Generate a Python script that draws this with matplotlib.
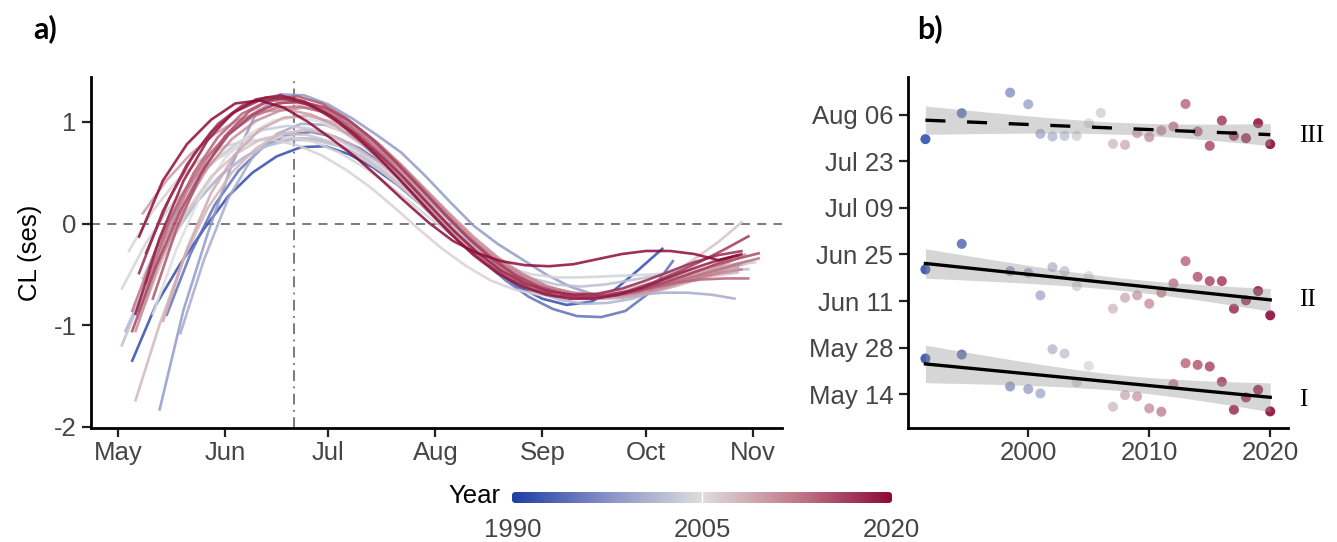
import numpy as np
import matplotlib.pyplot as plt
from matplotlib.colors import LinearSegmentedColormap, Normalize
from matplotlib.patches import FancyBboxPatch

plt.rcParams['font.family'] = ['Liberation Sans', 'DejaVu Sans']
plt.rcParams['axes.unicode_minus'] = False

W, H = 1337, 542

# ---------------- panel a : seasonal CL curves (weekly values from start day-of-year)
curve_years = [1991.5, 1994.5, 1998.5, 2000, 2001, 2002, 2003, 2004, 2005, 2006, 2007, 2008,
               2009, 2010, 2011, 2012, 2013, 2014, 2015, 2016, 2017, 2018, 2019, 2020]
curve_start = [125, 135, 133, 139, 123, 122, 128, 122, 131, 124, 127, 126,
               134, 128, 126, 127, 125, 129, 131, 125, 129, 127, 126, 127]
curve_cl = [
    [-1.36, -0.80, -0.40, -0.05, 0.27, 0.50, 0.66, 0.75, 0.76, 0.68, 0.55, 0.38, 0.18, -0.04, -0.25, -0.45, -0.62, -0.74, -0.80, -0.77, -0.65, -0.45, -0.24],
    [-0.91, -0.30, 0.18, 0.52, 0.75, 0.87, 0.90, 0.85, 0.74, 0.58, 0.38, 0.15, -0.10, -0.34, -0.55, -0.72, -0.84, -0.91, -0.92, -0.86, -0.68, -0.36],
    [-1.84, -0.85, -0.10, 0.58, 1.08, 1.27, 1.26, 1.17, 1.03, 0.87, 0.70, 0.47, 0.22, -0.02, -0.20, -0.35, -0.50, -0.62, -0.70, -0.73, -0.70, -0.63, -0.55, -0.48, -0.43],
    [-1.09, -0.35, 0.25, 0.65, 0.88, 0.98, 0.97, 0.88, 0.72, 0.52, 0.30, 0.06, -0.18, -0.38, -0.54, -0.65, -0.72, -0.74, -0.73, -0.70, -0.68, -0.68, -0.70, -0.74],
    [-1.07, -0.55, -0.12, 0.22, 0.48, 0.66, 0.78, 0.84, 0.83, 0.76, 0.63, 0.46, 0.26, 0.04, -0.18, -0.38, -0.55, -0.67, -0.75, -0.79, -0.78, -0.74, -0.66, -0.57, -0.48, -0.42, -0.38],
    [-1.21, -0.62, -0.18, 0.18, 0.45, 0.64, 0.76, 0.82, 0.82, 0.76, 0.64, 0.48, 0.30, 0.10, -0.10, -0.28, -0.43, -0.54, -0.60, -0.62, -0.60, -0.56, -0.52, -0.48, -0.46, -0.45, -0.45],
    [-0.55, -0.05, 0.35, 0.62, 0.80, 0.92, 0.96, 0.93, 0.84, 0.70, 0.52, 0.31, 0.09, -0.13, -0.33, -0.49, -0.61, -0.68, -0.71, -0.71, -0.68, -0.63, -0.57, -0.50, -0.44, -0.40],
    [-0.65, -0.20, 0.16, 0.44, 0.64, 0.77, 0.84, 0.85, 0.80, 0.70, 0.56, 0.39, 0.20, 0.01, -0.17, -0.32, -0.43, -0.50, -0.53, -0.53, -0.52, -0.51, -0.50, -0.48, -0.45, -0.41, -0.37],
    [-0.90, -0.25, 0.28, 0.64, 0.88, 1.01, 1.05, 1.00, 0.88, 0.71, 0.50, 0.27, 0.03, -0.19, -0.38, -0.53, -0.63, -0.69, -0.71, -0.70, -0.66, -0.60, -0.53, -0.46, -0.40],
    [-0.28, 0.12, 0.42, 0.63, 0.76, 0.82, 0.82, 0.77, 0.67, 0.53, 0.36, 0.16, -0.05, -0.25, -0.42, -0.56, -0.65, -0.70, -0.72, -0.71, -0.67, -0.62, -0.56, -0.50, -0.45, -0.41, -0.38],
    [-0.95, -0.35, 0.12, 0.46, 0.68, 0.82, 0.88, 0.87, 0.80, 0.68, 0.52, 0.33, 0.12, -0.10, -0.30, -0.47, -0.60, -0.68, -0.72, -0.73, -0.70, -0.62, -0.50, -0.35, -0.18, 0.02],
    [-1.75, -1.00, -0.35, 0.15, 0.50, 0.74, 0.88, 0.92, 0.88, 0.77, 0.61, 0.42, 0.20, -0.03, -0.24, -0.42, -0.56, -0.65, -0.70, -0.71, -0.69, -0.65, -0.60, -0.55, -0.51, -0.48],
    [-0.97, -0.25, 0.30, 0.68, 0.92, 1.04, 1.06, 1.00, 0.88, 0.70, 0.48, 0.24, 0.00, -0.22, -0.41, -0.56, -0.66, -0.72, -0.74, -0.73, -0.69, -0.63, -0.56, -0.48, -0.40],
    [0.09, 0.42, 0.68, 0.88, 1.02, 1.10, 1.12, 1.07, 0.96, 0.80, 0.60, 0.37, 0.13, -0.10, -0.30, -0.46, -0.58, -0.65, -0.69, -0.70, -0.68, -0.64, -0.58, -0.50, -0.41, -0.30],
    [-1.07, -0.38, 0.15, 0.55, 0.83, 1.01, 1.11, 1.14, 1.09, 0.97, 0.80, 0.58, 0.34, 0.10, -0.13, -0.33, -0.49, -0.61, -0.68, -0.71, -0.71, -0.68, -0.62, -0.55, -0.47, -0.40],
    [-0.87, -0.20, 0.32, 0.70, 0.96, 1.12, 1.19, 1.18, 1.10, 0.96, 0.77, 0.54, 0.29, 0.04, -0.19, -0.38, -0.53, -0.63, -0.68, -0.70, -0.68, -0.64, -0.59, -0.54, -0.49, -0.45],
    [-0.87, -0.25, 0.25, 0.62, 0.88, 1.05, 1.14, 1.15, 1.09, 0.97, 0.79, 0.57, 0.33, 0.08, -0.16, -0.36, -0.52, -0.63, -0.69, -0.72, -0.71, -0.67, -0.61, -0.54, -0.47, -0.40, -0.34],
    [-0.60, 0.02, 0.50, 0.85, 1.08, 1.20, 1.22, 1.16, 1.03, 0.85, 0.63, 0.38, 0.12, -0.13, -0.35, -0.52, -0.64, -0.71, -0.73, -0.72, -0.68, -0.63, -0.58, -0.55, -0.54, -0.54],
    [-0.75, -0.05, 0.48, 0.86, 1.10, 1.23, 1.25, 1.18, 1.04, 0.85, 0.62, 0.37, 0.12, -0.12, -0.33, -0.50, -0.62, -0.69, -0.72, -0.71, -0.67, -0.60, -0.52, -0.43, -0.33],
    [-1.07, -0.42, 0.12, 0.55, 0.87, 1.07, 1.18, 1.20, 1.14, 1.01, 0.82, 0.59, 0.34, 0.08, -0.16, -0.37, -0.53, -0.64, -0.70, -0.72, -0.70, -0.65, -0.58, -0.50, -0.42, -0.35, -0.29],
    [-0.30, 0.25, 0.68, 0.98, 1.16, 1.24, 1.23, 1.14, 0.99, 0.79, 0.56, 0.31, 0.06, -0.18, -0.38, -0.54, -0.65, -0.71, -0.73, -0.71, -0.66, -0.58, -0.48, -0.37, -0.25, -0.12],
    [-0.50, 0.12, 0.58, 0.90, 1.10, 1.21, 1.23, 1.17, 1.05, 0.88, 0.67, 0.44, 0.19, -0.06, -0.28, -0.46, -0.59, -0.67, -0.70, -0.69, -0.64, -0.56, -0.47, -0.38, -0.31, -0.27],
    [-0.90, -0.15, 0.42, 0.82, 1.08, 1.22, 1.26, 1.20, 1.07, 0.89, 0.67, 0.42, 0.16, -0.09, -0.31, -0.49, -0.62, -0.70, -0.74, -0.74, -0.70, -0.63, -0.54, -0.45, -0.37, -0.31],
    [-0.14, 0.42, 0.78, 1.02, 1.18, 1.21, 1.14, 1.00, 0.83, 0.65, 0.44, 0.22, 0.01, -0.17, -0.29, -0.37, -0.41, -0.42, -0.40, -0.35, -0.30, -0.27, -0.27, -0.30, -0.36, -0.30],
]
month_doy = [121, 152, 182, 213, 244, 274, 305]
month_labels = ['May', 'Jun', 'Jul', 'Aug', 'Sep', 'Oct', 'Nov']
solstice_doy = 172

# ---------------- panel b : timing of I, II, III (day of year)
trend_years = [1991.5, 1994.5, 1998.5, 2000, 2001, 2002, 2003, 2004, 2005, 2006, 2007, 2008,
               2009, 2010, 2011, 2012, 2013, 2014, 2015, 2016, 2017, 2018, 2019, 2020]
nan = np.nan
doy_I = [144.7, 145.9, 136.3, 135.5, 134.2, 147.5, 146.2, 137.5, 142.5, nan, 130.2, 133.7,
         133.3, 129.7, 128.7, 137.0, 143.3, 142.8, 142.3, 137.7, 129.3, 133.0, 135.3, 128.8]
doy_II = [171.5, 179.2, 171.0, 170.5, 163.7, 172.2, 171.0, 166.5, 169.5, nan, 159.7, 163.0,
          163.7, 161.2, 164.5, 167.3, 174.0, 169.3, 168.0, 168.0, 159.7, 162.2, 165.0, 157.7]
doy_III = [210.7, 218.5, 224.7, 221.2, 212.3, 211.5, 211.7, 211.7, 215.5, 218.6, 209.3, 209.0,
           212.5, 211.3, 213.3, 214.5, 221.3, 213.0, 208.7, 216.3, 211.7, 211.0, 215.5, 209.2]
date_ticks = [134, 148, 162, 176, 190, 204, 218]
date_labels = ['May 14', 'May 28', 'Jun 11', 'Jun 25', 'Jul 09', 'Jul 23', 'Aug 06']

cmap = LinearSegmentedColormap.from_list(
    'year', [(0.0, '#1f3fa6'), (0.25, '#8891c6'), (0.5, '#dedede'), (0.75, '#c27a8b'), (1.0, '#8c0b38')])
norm = Normalize(1990, 2020)

fig = plt.figure(figsize=(W / 100, H / 100), dpi=100)
TICK_C = '#454545'
FS = 18.5


def style(ax):
    for s in ['top', 'right']:
        ax.spines[s].set_visible(False)
    for s in ['left', 'bottom']:
        ax.spines[s].set_linewidth(2.0)
        ax.spines[s].set_color('black')
    ax.tick_params(length=6.5, width=1.6, color='#222222', labelsize=FS, labelcolor=TICK_C)
    ax.tick_params(axis='x', pad=3)
    ax.tick_params(axis='y', pad=4)


# panel a
ax = fig.add_axes([91 / W, 1 - 428 / H, 691 / W, 351 / H])
for yr, st, vals in zip(curve_years, curve_start, curve_cl):
    days = st + 7 * np.arange(len(vals))
    ax.plot(days, vals, color=cmap(norm(yr)), lw=1.9, alpha=0.85,
            solid_capstyle='butt', solid_joinstyle='round')
ax.axhline(0, color='#707070', lw=1.3, ls=(0, (5, 4)), zorder=0)
ax.axvline(solstice_doy, color='#707070', lw=1.3, ls=(0, (6, 3, 1, 3)), zorder=0)
ax.set_xlim(113.2, 313.4)
ax.set_ylim(-2.01, 1.44)
ax.set_xticks(month_doy)
ax.set_xticklabels(month_labels)
ax.set_yticks([-2, -1, 0, 1])
ax.set_yticklabels(['-2', '-1', '0', '1'])
style(ax)
ax.set_ylabel('CL (ses)', fontsize=FS, labelpad=8)

# panel b
bx = fig.add_axes([908 / W, 1 - 428 / H, 380 / W, 351 / H])
yrs = np.array(trend_years)
for vals, dashed in [(doy_I, False), (doy_II, False), (doy_III, True)]:
    v = np.array(vals)
    ok = ~np.isnan(v)
    x, y = yrs[ok], v[ok]
    bx.scatter(x, y, s=52, c=cmap(norm(x)), edgecolors='none', alpha=0.9, zorder=2)
    b, a = np.polyfit(x, y, 1)
    xs = np.linspace(x.min(), x.max(), 50)
    n = len(x)
    resid = y - (a + b * x)
    se = np.sqrt(np.sum(resid ** 2) / (n - 2))
    ci = 2.07 * se * np.sqrt(1 / n + (xs - x.mean()) ** 2 / np.sum((x - x.mean()) ** 2))
    fit = a + b * xs
    bx.fill_between(xs, fit - ci, fit + ci, color='#999999', alpha=0.4, lw=0, zorder=3)
    if dashed:
        bx.plot(xs, fit, color='black', lw=2.4, dashes=(6, 6.5), zorder=4)
    else:
        bx.plot(xs, fit, color='black', lw=2.4, zorder=4)
bx.set_xlim(1990.06, 2021.47)
bx.set_ylim(123.8, 229.4)
bx.set_xticks([2000, 2010, 2020])
bx.set_yticks(date_ticks)
bx.set_yticklabels(date_labels)
style(bx)

for lab, yp in [('III', 136), ('II', 300), ('I', 400)]:
    fig.text(1299 / W, 1 - yp / H, lab, family=['Liberation Serif', 'DejaVu Serif'],
             fontsize=18, ha='left', va='center')

fig.text(33 / W, 1 - 29 / H, 'a)', family=['Lato', 'DejaVu Sans'], fontweight='bold',
         fontsize=22, ha='left', va='center')
fig.text(917 / W, 1 - 29 / H, 'b)', family=['Lato', 'DejaVu Sans'], fontweight='bold',
         fontsize=22, ha='left', va='center')

# colour bar legend
cax = fig.add_axes([512 / W, 1 - 503 / H, 380 / W, 11 / H])
grad = np.linspace(1990, 2020, 300)[None, :]
im = cax.imshow(grad, aspect='auto', cmap=cmap, norm=norm, extent=[1990, 2020, 0, 1])
box = FancyBboxPatch((1990, 0), 30, 1, boxstyle='round,pad=0,rounding_size=0.3',
                     transform=cax.transData, facecolor='none', edgecolor='none')
cax.add_patch(box)
im.set_clip_path(box)
cax.axvline(2005, color='white', lw=1)
cax.set_xlim(1990, 2020)
cax.set_ylim(0, 1)
cax.axis('off')
fig.text(500 / W, 1 - 496 / H, 'Year', fontsize=FS, ha='right', va='center', color='black')
for yv, xp in [(1990, 513), (2005, 702), (2020, 891)]:
    fig.text(xp / W, 1 - 530 / H, str(yv), fontsize=FS, ha='center', va='center', color=TICK_C)

fig.savefig('out.png', dpi=100)
